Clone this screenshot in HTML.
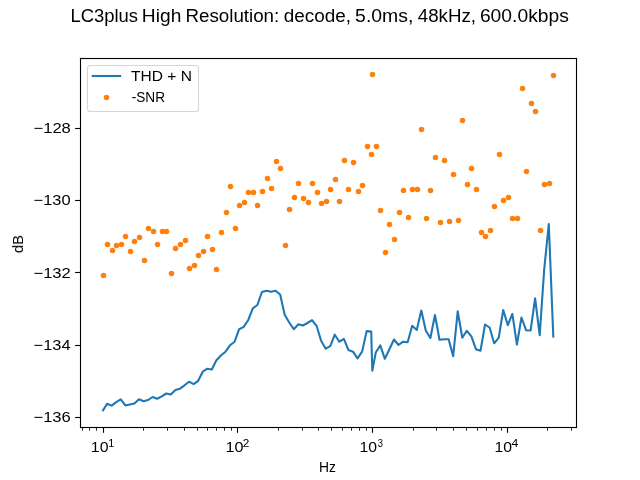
<!DOCTYPE html>
<html><head><meta charset="utf-8"><title>LC3plus High Resolution</title>
<style>
html,body{margin:0;padding:0;background:#fff;}
body{width:640px;height:480px;overflow:hidden;font-family:"Liberation Sans",sans-serif;}
svg{display:block;}
text{font-family:"Liberation Sans",sans-serif;fill:#000;}
#fig{width:640px;height:480px;will-change:transform;}
.txt{filter:grayscale(1);}
</style></head><body>
<div id="fig">
<svg width="640" height="480" viewBox="0 0 640 480">
<rect x="0" y="0" width="640" height="480" fill="#ffffff"/>
<!-- THD + N curve -->
<path d="M102.55 411.10 L107.10 403.70 L111.66 405.60 L116.21 402.20 L120.76 399.30 L125.32 405.40 L129.87 404.40 L134.42 403.40 L138.98 399.30 L143.53 401.30 L148.08 400.00 L152.64 397.00 L157.19 398.70 L161.75 396.40 L166.30 393.50 L170.85 394.40 L175.41 390.10 L179.96 388.70 L184.51 385.30 L189.07 381.70 L193.62 384.20 L198.17 380.80 L202.73 371.70 L207.28 368.70 L211.83 369.50 L216.39 360.30 L220.94 355.50 L225.49 351.70 L230.05 345.30 L234.60 341.70 L239.15 329.20 L243.71 326.90 L248.26 320.00 L252.82 308.30 L257.37 305.00 L261.92 292.00 L266.48 290.80 L271.03 291.80 L275.58 290.80 L280.14 294.50 L284.69 314.70 L289.24 322.50 L293.80 329.20 L298.35 324.20 L302.90 325.50 L307.46 323.00 L312.01 320.10 L316.56 325.80 L321.12 340.80 L325.67 348.70 L330.22 346.20 L334.78 334.70 L339.33 341.70 L343.89 338.80 L348.44 350.00 L352.99 351.70 L357.55 358.30 L362.10 351.70 L366.65 331.10 L371.21 331.50 L372.30 370.80 L375.76 352.50 L380.31 345.40 L384.87 358.80 L389.42 349.20 L393.97 339.50 L398.53 345.00 L403.08 341.70 L407.63 342.30 L412.19 325.80 L416.74 330.00 L421.30 310.50 L425.85 330.80 L430.40 338.00 L434.96 315.00 L439.51 339.70 L444.06 339.30 L448.62 339.20 L453.17 356.20 L457.72 311.20 L462.28 337.80 L466.83 330.80 L471.38 336.30 L475.94 349.20 L480.49 350.80 L485.04 324.50 L489.60 327.50 L494.15 343.30 L498.70 337.80 L503.26 310.00 L507.81 325.10 L512.36 313.90 L516.92 344.60 L521.47 317.50 L526.03 330.20 L530.58 330.50 L535.13 298.40 L539.69 335.10 L544.24 269.00 L548.79 224.00 L553.35 337.60" fill="none" stroke="#1f77b4" stroke-width="2.08" stroke-linejoin="round" stroke-linecap="butt"/>
<!-- -SNR markers -->
<g fill="#ff7f0e">
<circle cx="103.5" cy="275.5" r="2.75"/><circle cx="107.5" cy="244.5" r="2.75"/><circle cx="112.5" cy="250.5" r="2.75"/><circle cx="116.5" cy="245.5" r="2.75"/><circle cx="121.5" cy="244.5" r="2.75"/><circle cx="125.5" cy="236.5" r="2.75"/><circle cx="130.5" cy="251.5" r="2.75"/><circle cx="134.5" cy="241.5" r="2.75"/><circle cx="139.5" cy="237.5" r="2.75"/><circle cx="144.5" cy="260.5" r="2.75"/><circle cx="148.5" cy="228.5" r="2.75"/><circle cx="153.5" cy="231.5" r="2.75"/><circle cx="157.5" cy="244.5" r="2.75"/><circle cx="162.5" cy="231.5" r="2.75"/><circle cx="166.5" cy="231.5" r="2.75"/><circle cx="171.5" cy="273.5" r="2.75"/><circle cx="175.5" cy="248.5" r="2.75"/><circle cx="180.5" cy="244.5" r="2.75"/><circle cx="185.5" cy="240.5" r="2.75"/><circle cx="189.5" cy="268.5" r="2.75"/><circle cx="194.5" cy="265.5" r="2.75"/><circle cx="198.5" cy="255.5" r="2.75"/><circle cx="203.5" cy="251.5" r="2.75"/><circle cx="207.5" cy="236.5" r="2.75"/><circle cx="212.5" cy="249.5" r="2.75"/><circle cx="216.5" cy="269.5" r="2.75"/><circle cx="221.5" cy="232.5" r="2.75"/><circle cx="226.5" cy="212.5" r="2.75"/><circle cx="230.5" cy="186.5" r="2.75"/><circle cx="235.5" cy="228.5" r="2.75"/><circle cx="239.5" cy="205.5" r="2.75"/><circle cx="244.5" cy="202.5" r="2.75"/><circle cx="248.5" cy="192.5" r="2.75"/><circle cx="253.5" cy="192.5" r="2.75"/><circle cx="257.5" cy="205.5" r="2.75"/><circle cx="262.5" cy="191.5" r="2.75"/><circle cx="267.5" cy="178.5" r="2.75"/><circle cx="271.5" cy="188.5" r="2.75"/><circle cx="276.5" cy="161.5" r="2.75"/><circle cx="280.5" cy="168.5" r="2.75"/><circle cx="285.5" cy="245.5" r="2.75"/><circle cx="289.5" cy="209.5" r="2.75"/><circle cx="294.5" cy="197.5" r="2.75"/><circle cx="298.5" cy="183.5" r="2.75"/><circle cx="303.5" cy="198.5" r="2.75"/><circle cx="308.5" cy="202.5" r="2.75"/><circle cx="312.5" cy="183.5" r="2.75"/><circle cx="317.5" cy="192.5" r="2.75"/><circle cx="321.5" cy="203.5" r="2.75"/><circle cx="326.5" cy="201.5" r="2.75"/><circle cx="330.5" cy="189.5" r="2.75"/><circle cx="335.5" cy="179.5" r="2.75"/><circle cx="339.5" cy="201.5" r="2.75"/><circle cx="344.5" cy="160.5" r="2.75"/><circle cx="348.5" cy="189.5" r="2.75"/><circle cx="353.5" cy="162.5" r="2.75"/><circle cx="358.5" cy="191.5" r="2.75"/><circle cx="362.5" cy="185.5" r="2.75"/><circle cx="367.5" cy="146.5" r="2.75"/><circle cx="371.5" cy="154.5" r="2.75"/><circle cx="372.5" cy="74.5" r="2.75"/><circle cx="376.5" cy="146.5" r="2.75"/><circle cx="380.5" cy="210.5" r="2.75"/><circle cx="385.5" cy="252.5" r="2.75"/><circle cx="389.5" cy="224.5" r="2.75"/><circle cx="394.5" cy="239.5" r="2.75"/><circle cx="399.5" cy="212.5" r="2.75"/><circle cx="403.5" cy="190.5" r="2.75"/><circle cx="408.5" cy="217.5" r="2.75"/><circle cx="412.5" cy="189.5" r="2.75"/><circle cx="417.5" cy="189.5" r="2.75"/><circle cx="421.5" cy="129.5" r="2.75"/><circle cx="426.5" cy="218.5" r="2.75"/><circle cx="430.5" cy="190.5" r="2.75"/><circle cx="435.5" cy="157.5" r="2.75"/><circle cx="440.5" cy="222.5" r="2.75"/><circle cx="444.5" cy="160.5" r="2.75"/><circle cx="449.5" cy="221.5" r="2.75"/><circle cx="453.5" cy="174.5" r="2.75"/><circle cx="458.5" cy="220.5" r="2.75"/><circle cx="462.5" cy="120.5" r="2.75"/><circle cx="467.5" cy="184.5" r="2.75"/><circle cx="471.5" cy="168.5" r="2.75"/><circle cx="476.5" cy="189.5" r="2.75"/><circle cx="481.5" cy="232.5" r="2.75"/><circle cx="485.5" cy="236.5" r="2.75"/><circle cx="490.5" cy="230.5" r="2.75"/><circle cx="494.5" cy="206.5" r="2.75"/><circle cx="499.5" cy="154.5" r="2.75"/><circle cx="503.5" cy="200.5" r="2.75"/><circle cx="508.5" cy="197.5" r="2.75"/><circle cx="512.5" cy="218.5" r="2.75"/><circle cx="517.5" cy="218.5" r="2.75"/><circle cx="522.5" cy="88.5" r="2.75"/><circle cx="526.5" cy="171.5" r="2.75"/><circle cx="531.5" cy="103.5" r="2.75"/><circle cx="535.5" cy="111.5" r="2.75"/><circle cx="540.5" cy="230.5" r="2.75"/><circle cx="544.5" cy="184.5" r="2.75"/><circle cx="549.5" cy="183.5" r="2.75"/><circle cx="553.5" cy="75.5" r="2.75"/>
</g>
<!-- axes frame and ticks -->
<g fill="#000">
<rect x="79.945" y="57.945" width="497.11" height="1.11"/><rect x="79.945" y="426.945" width="497.11" height="1.11"/><rect x="79.945" y="57.945" width="1.11" height="370.11"/><rect x="575.945" y="57.945" width="1.11" height="370.11"/>
<rect x="75.1" y="127.945" width="4.9" height="1.11"/><rect x="75.1" y="199.945" width="4.9" height="1.11"/><rect x="75.1" y="271.945" width="4.9" height="1.11"/><rect x="75.1" y="344.945" width="4.9" height="1.11"/><rect x="75.1" y="416.945" width="4.9" height="1.11"/>
<rect x="102.945" y="428" width="1.11" height="4.8"/><rect x="236.945" y="428" width="1.11" height="4.8"/><rect x="371.945" y="428" width="1.11" height="4.8"/><rect x="506.945" y="428" width="1.11" height="4.8"/>
<rect x="82.085" y="428" width="0.83" height="2.75"/><rect x="89.085" y="428" width="0.83" height="2.75"/><rect x="96.085" y="428" width="0.83" height="2.75"/><rect x="143.085" y="428" width="0.83" height="2.75"/><rect x="167.085" y="428" width="0.83" height="2.75"/><rect x="184.085" y="428" width="0.83" height="2.75"/><rect x="197.085" y="428" width="0.83" height="2.75"/><rect x="207.085" y="428" width="0.83" height="2.75"/><rect x="216.085" y="428" width="0.83" height="2.75"/><rect x="224.085" y="428" width="0.83" height="2.75"/><rect x="231.085" y="428" width="0.83" height="2.75"/><rect x="278.085" y="428" width="0.83" height="2.75"/><rect x="302.085" y="428" width="0.83" height="2.75"/><rect x="318.085" y="428" width="0.83" height="2.75"/><rect x="331.085" y="428" width="0.83" height="2.75"/><rect x="342.085" y="428" width="0.83" height="2.75"/><rect x="351.085" y="428" width="0.83" height="2.75"/><rect x="359.085" y="428" width="0.83" height="2.75"/><rect x="366.085" y="428" width="0.83" height="2.75"/><rect x="413.085" y="428" width="0.83" height="2.75"/><rect x="436.085" y="428" width="0.83" height="2.75"/><rect x="453.085" y="428" width="0.83" height="2.75"/><rect x="466.085" y="428" width="0.83" height="2.75"/><rect x="477.085" y="428" width="0.83" height="2.75"/><rect x="486.085" y="428" width="0.83" height="2.75"/><rect x="494.085" y="428" width="0.83" height="2.75"/><rect x="501.085" y="428" width="0.83" height="2.75"/><rect x="547.085" y="428" width="0.83" height="2.75"/><rect x="571.085" y="428" width="0.83" height="2.75"/>
</g>
<!-- title -->
<g class="txt">
<text x="70.53" y="22.00" font-size="17.5" textLength="67.54" lengthAdjust="spacingAndGlyphs">LC3plus</text>
<text x="141.89" y="22.00" font-size="17.5" textLength="39.46" lengthAdjust="spacingAndGlyphs">High</text>
<text x="185.48" y="22.00" font-size="17.5" textLength="93.80" lengthAdjust="spacingAndGlyphs">Resolution:</text>
<text x="283.87" y="22.00" font-size="17.5" textLength="67.24" lengthAdjust="spacingAndGlyphs">decode,</text>
<text x="355.11" y="22.00" font-size="17.5" textLength="58.20" lengthAdjust="spacingAndGlyphs">5.0ms,</text>
<text x="417.75" y="22.00" font-size="17.5" textLength="58.25" lengthAdjust="spacingAndGlyphs">48kHz,</text>
<text x="479.90" y="22.00" font-size="17.5" textLength="88.96" lengthAdjust="spacingAndGlyphs">600.0kbps</text>
<!-- tick labels -->
<text x="33.49" y="133.00" font-size="14.6" textLength="37.36" lengthAdjust="spacingAndGlyphs">−128</text>
<text x="33.55" y="205.00" font-size="14.6" textLength="37.04" lengthAdjust="spacingAndGlyphs">−130</text>
<text x="33.45" y="278.00" font-size="14.6" textLength="37.42" lengthAdjust="spacingAndGlyphs">−132</text>
<text x="33.56" y="350.00" font-size="14.6" textLength="36.99" lengthAdjust="spacingAndGlyphs">−134</text>
<text x="33.48" y="422.00" font-size="14.6" textLength="37.33" lengthAdjust="spacingAndGlyphs">−136</text>
<text x="90.82" y="452.00" font-size="14.6" textLength="17.65" lengthAdjust="spacingAndGlyphs">10</text>
<text x="108.19" y="446.60" font-size="10.2" textLength="6.15" lengthAdjust="spacingAndGlyphs">1</text>
<text x="225.64" y="452.00" font-size="14.6" textLength="17.89" lengthAdjust="spacingAndGlyphs">10</text>
<text x="242.70" y="446.60" font-size="10.2" textLength="6.55" lengthAdjust="spacingAndGlyphs">2</text>
<text x="359.54" y="452.00" font-size="14.6" textLength="17.50" lengthAdjust="spacingAndGlyphs">10</text>
<text x="377.82" y="446.60" font-size="10.2" textLength="5.23" lengthAdjust="spacingAndGlyphs">3</text>
<text x="494.54" y="452.00" font-size="14.6" textLength="17.50" lengthAdjust="spacingAndGlyphs">10</text>
<text x="511.62" y="446.60" font-size="10.2" textLength="6.83" lengthAdjust="spacingAndGlyphs">4</text>
<!-- axis labels -->
<text x="319.00" y="471.90" font-size="14.6" textLength="16.92" lengthAdjust="spacingAndGlyphs">Hz</text>
<text transform="translate(23.00 253.11) rotate(-90)" font-size="14.6" textLength="18.07" lengthAdjust="spacingAndGlyphs">dB</text>
</g>
<!-- legend -->
<rect x="87.5" y="65.5" width="111" height="46" rx="2.8" ry="2.8" fill="#fff" fill-opacity="0.8" stroke="#cccccc" stroke-opacity="0.8" stroke-width="1.1"/>
<path d="M91.7 76 H121.2" stroke="#1f77b4" stroke-width="2.08" fill="none"/>
<circle cx="106.5" cy="97.5" r="2.75" fill="#ff7f0e"/>
<g class="txt">
<text x="131.01" y="80.90" font-size="14.6" textLength="60.97" lengthAdjust="spacingAndGlyphs">THD + N</text>
<text x="131.68" y="102.10" font-size="14.6" textLength="33.36" lengthAdjust="spacingAndGlyphs">-SNR</text>
</g>
</svg>
</div>
</body></html>
